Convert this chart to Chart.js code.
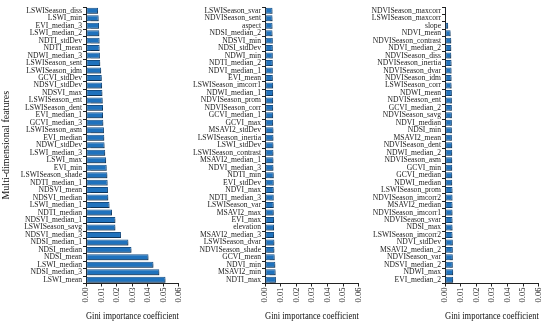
<!DOCTYPE html>
<html lang="en">
<head>
  <meta charset="UTF-8" />
  <title>Gini importance of multi-dimensional features</title>
  <script src="https://cdn.jsdelivr.net/npm/chart.js"></script>
  <style>
    body { margin:0; background:#fff; }
    #wrap { position:relative; width:550px; height:326px; }
    canvas { position:absolute; top:0; }
  </style>
</head>
<body>
<div id="wrap">
  <canvas id="c1" width="190" height="326" style="left:0"></canvas>
  <canvas id="c2" width="185" height="326" style="left:185px"></canvas>
  <canvas id="c3" width="185" height="326" style="left:365px"></canvas>
</div>
<script>
  // panel 1 (highest importance at the bottom)
  const labels1 = ["LSWISeason_diss","LSWI_min","EVI_median_3","LSWI_median_2","NDTI_stdDev","NDTI_mean","NDWI_median_3","LSWISeason_sent","LSWISeason_idm","GCVI_stdDev","NDSVI_stdDev","NDSVI_max","LSWISeason_ent","LSWISeason_dent","EVI_median_1","GCVI_median_3","LSWISeason_asm","EVI_median","NDWI_stdDev","LSWI_median_3","LSWI_max","EVI_min","LSWISeason_shade","NDTI_median_1","NDSVI_mean","NDSVI_median","LSWI_median_1","NDTI_median","NDSVI_median_1","LSWISeason_savg","NDSVI_median_3","NDSI_median_1","NDSI_median","NDSI_mean","LSWI_median","NDSI_median_3","LSWI_mean"];
  const values1 = [0.0078,0.0082,0.0084,0.0086,0.0088,0.0088,0.0090,0.0092,0.0098,0.0102,0.0104,0.0106,0.0108,0.0110,0.0110,0.0112,0.0116,0.0118,0.0120,0.0124,0.0130,0.0134,0.0138,0.0140,0.0142,0.0144,0.0152,0.0168,0.0190,0.0190,0.0226,0.0274,0.0294,0.0404,0.0436,0.0474,0.0514];

  // panel 2
  const labels2 = ["LSWISeason_svar","NDVISeason_sent","aspect","NDSI_median_2","NDSVI_min","NDSI_stdDev","NDWI_min","NDTI_median_2","NDVI_median_1","EVI_mean","LSWISeason_imcorr1","NDWI_median_1","NDVISeason_prom","NDVISeason_corr","GCVI_median_1","GCVI_max","MSAVI2_stdDev","LSWISeason_inertia","LSWI_stdDev","LSWISeason_contrast","MSAVI2_median_1","NDVI_median_3","NDTI_min","EVI_stdDev","NDVI_max","NDTI_median_3","LSWISeason_var","MSAVI2_max","EVI_max","elevation","MSAVI2_median_3","LSWISeason_dvar","NDVISeason_shade","GCVI_mean","NDVI_min","MSAVI2_min","NDTI_max"];
  const values2 = [0.0048,0.0048,0.0048,0.0048,0.0050,0.0050,0.0050,0.0050,0.0050,0.0050,0.0052,0.0052,0.0052,0.0052,0.0052,0.0052,0.0054,0.0054,0.0054,0.0054,0.0054,0.0054,0.0056,0.0056,0.0056,0.0056,0.0056,0.0056,0.0058,0.0058,0.0058,0.0060,0.0060,0.0062,0.0066,0.0068,0.0070];

  // panel 3
  const labels3 = ["NDVISeason_maxcorr","LSWISeason_maxcorr","slope","NDVI_mean","NDVISeason_contrast","NDVI_median_2","NDVISeason_diss","NDVISeason_inertia","NDVISeason_dvar","NDVISeason_idm","LSWISeason_corr","NDWI_mean","NDVISeason_ent","GCVI_median_2","NDVISeason_savg","NDVI_median","NDSI_min","MSAVI2_mean","NDVISeason_dent","NDWI_median_2","NDVISeason_asm","GCVI_min","GCVI_median","NDWI_median","LSWISeason_prom","NDVISeason_imcorr2","MSAVI2_median","NDVISeason_imcorr1","NDVISeason_svar","NDSI_max","LSWISeason_imcorr2","NDVI_stdDev","MSAVI2_median_2","NDVISeason_var","NDSVI_median_2","NDWI_max","EVI_median_2"];
  const values3 = [0.0001,0.0002,0.0020,0.0036,0.0040,0.0040,0.0040,0.0042,0.0042,0.0042,0.0042,0.0044,0.0044,0.0044,0.0044,0.0044,0.0044,0.0044,0.0046,0.0046,0.0046,0.0046,0.0046,0.0046,0.0048,0.0048,0.0048,0.0048,0.0048,0.0048,0.0048,0.0050,0.0050,0.0050,0.0050,0.0052,0.0052];

  const xTicks = [0, 0.01, 0.02, 0.03, 0.04, 0.05, 0.06];
  const xTitle = "Gini importance coefficient";
  const yTitle = "Multi-dimensional features";

  const serif = "'Liberation Serif','Times New Roman',serif";

  // soft grey shadow behind the bars
  const shadow = {
    id:'shadow',
    beforeDatasetsDraw(c){ const x=c.ctx; x.save(); x.shadowColor='rgba(0,0,0,0.35)'; x.shadowOffsetX=1; x.shadowOffsetY=2; x.shadowBlur=1; },
    afterDatasetsDraw(c){ c.ctx.restore(); }
  };

  function panel(id, labels, values, yWidth, padRight, showYTitle){
    return new Chart(document.getElementById(id), {
      type:'bar',
      data:{ labels:labels, datasets:[{ data:values, backgroundColor:'#1f72bd', borderColor:'#174f85', borderWidth:1, borderSkipped:false, barPercentage:0.8, categoryPercentage:1 }]},
      options:{
        indexAxis:'y', responsive:false, animation:false, devicePixelRatio:1,
        layout:{ padding:{ top:7, right:padRight, bottom:0, left:0 } },
        plugins:{ legend:{display:false}, tooltip:{enabled:false} },
        scales:{
          x:{
            min:0, max:0.06,
            afterBuildTicks: s => { s.ticks = xTicks.map(v => ({value:v})); },
            afterFit: s => { s.height = 42.5; },
            ticks:{ callback: v => v.toFixed(2), minRotation:90, maxRotation:90, font:{family:serif, size:8.5}, color:'#222', padding:1 },
            grid:{ drawOnChartArea:false, drawTicks:true, tickLength:3, color:'#222' },
            border:{ color:'#222', width:1 },
            title:{ display:true, text:xTitle, font:{family:serif, size:10}, color:'#111', padding:{top:0, bottom:4} }
          },
          y:{
            afterFit: s => { s.width = yWidth; },
            ticks:{ autoSkip:false, font:{family:serif, size:7.6}, color:'#222', padding:1 },
            grid:{ drawOnChartArea:false, drawTicks:true, tickLength:3, color:'#222' },
            border:{ color:'#222', width:1 },
            title:{ display:showYTitle, text:yTitle, font:{family:serif, size:10}, color:'#111', padding:{top:0, bottom:0} }
          }
        }
      },
      plugins:[shadow]
    });
  }

  panel('c1', labels1, values1, 86, 4, true);
  panel('c2', labels2, values2, 80, 5, false);
  panel('c3', labels3, values3, 80, 6, false);
</script>
</body>
</html>
